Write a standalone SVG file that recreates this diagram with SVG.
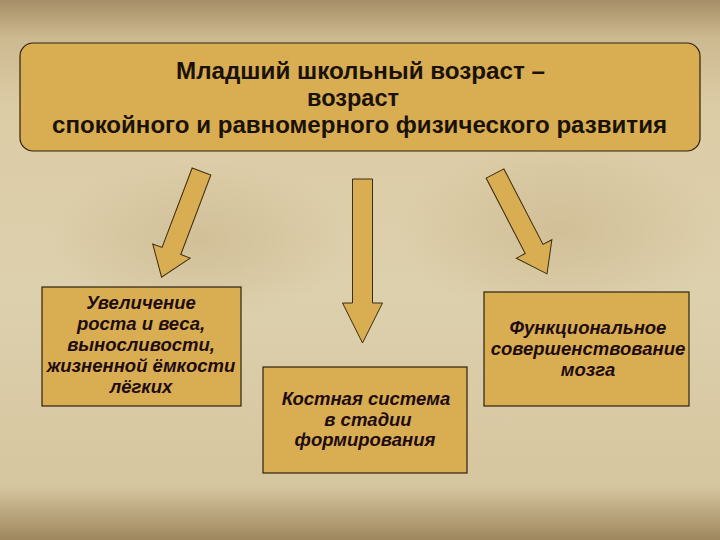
<svg xmlns="http://www.w3.org/2000/svg" width="720" height="540" viewBox="0 0 720 540">
  <defs>
    <linearGradient id="bg" x1="0" y1="0" x2="0" y2="1">
      <stop offset="0" stop-color="#a68f68"/>
      <stop offset="0.07" stop-color="#cdb990"/>
      <stop offset="0.2" stop-color="#dccca6"/>
      <stop offset="0.55" stop-color="#ddd0ad"/>
      <stop offset="0.9" stop-color="#d6c69f"/>
      <stop offset="1" stop-color="#9e875e"/>
    </linearGradient>
    <radialGradient id="blot" cx="0.5" cy="0.5" r="0.5">
      <stop offset="0" stop-color="#c9b58a" stop-opacity="0.6"/>
      <stop offset="1" stop-color="#c9b58a" stop-opacity="0"/>
    </radialGradient>
    <polygon id="arrowShort" points="-10,0 10,0 10,85 20,85 0,113 -20,85 -10,85"/>
  </defs>
  <style>
    .box { fill: #d9ad52; stroke: #2e2210; stroke-width: 1.2; }
    .arrow { fill: #d9ad52; stroke: #3a2c12; stroke-width: 1; }
    .title { font-family: "Liberation Sans", Arial, sans-serif; font-weight: bold; font-size: 23px; fill: #1a1208; text-anchor: middle; }
    .lbl { font-family: "Liberation Sans", Arial, sans-serif; font-weight: bold; font-style: italic; font-size: 18.5px; fill: #1e0c12; text-anchor: middle; }
  </style>
  <rect width="720" height="540" fill="url(#bg)"/>
  <ellipse cx="560" cy="230" rx="160" ry="90" fill="url(#blot)"/>
  <ellipse cx="200" cy="240" rx="150" ry="80" fill="url(#blot)"/>

  <g id="top">
    <rect class="box" x="20" y="43" width="680" height="108" rx="13" ry="13"/>
    <text class="title" x="360.5" y="79" textLength="369" lengthAdjust="spacingAndGlyphs">Младший школьный возраст –</text>
    <text class="title" x="353" y="106" textLength="92" lengthAdjust="spacingAndGlyphs">возраст</text>
    <text class="title" x="359.5" y="133" textLength="615" lengthAdjust="spacingAndGlyphs">спокойного и равномерного физического развития</text>
  </g>

  <g id="connectors">
    <use href="#arrowShort" class="arrow" transform="translate(201.5,171.5) rotate(20.7)"/>
    <polygon class="arrow" points="352.5,179 372.5,179 372.5,303 382.5,303 362.5,343 342.5,303 352.5,303"/>
    <use href="#arrowShort" class="arrow" transform="translate(495,173.5) rotate(-27.4)"/>
  </g>

  <g id="left">
    <rect class="box" x="42" y="287" width="199" height="119"/>
    <text class="lbl" x="141" y="309">Увеличение</text>
    <text class="lbl" x="141" y="330">роста и веса,</text>
    <text class="lbl" x="141" y="351">выносливости,</text>
    <text class="lbl" x="141" y="372">жизненной ёмкости</text>
    <text class="lbl" x="141" y="393">лёгких</text>
  </g>

  <g id="middle">
    <rect class="box" x="263" y="367" width="204" height="106"/>
    <text class="lbl" x="366" y="405">Костная система</text>
    <text class="lbl" x="368" y="426">в стадии</text>
    <text class="lbl" x="365" y="446">формирования</text>
  </g>

  <g id="right">
    <rect class="box" x="484" y="292" width="205" height="114"/>
    <text class="lbl" x="588" y="334">Функциональное</text>
    <text class="lbl" x="588" y="355">совершенствование</text>
    <text class="lbl" x="588" y="376">мозга</text>
  </g>
</svg>
